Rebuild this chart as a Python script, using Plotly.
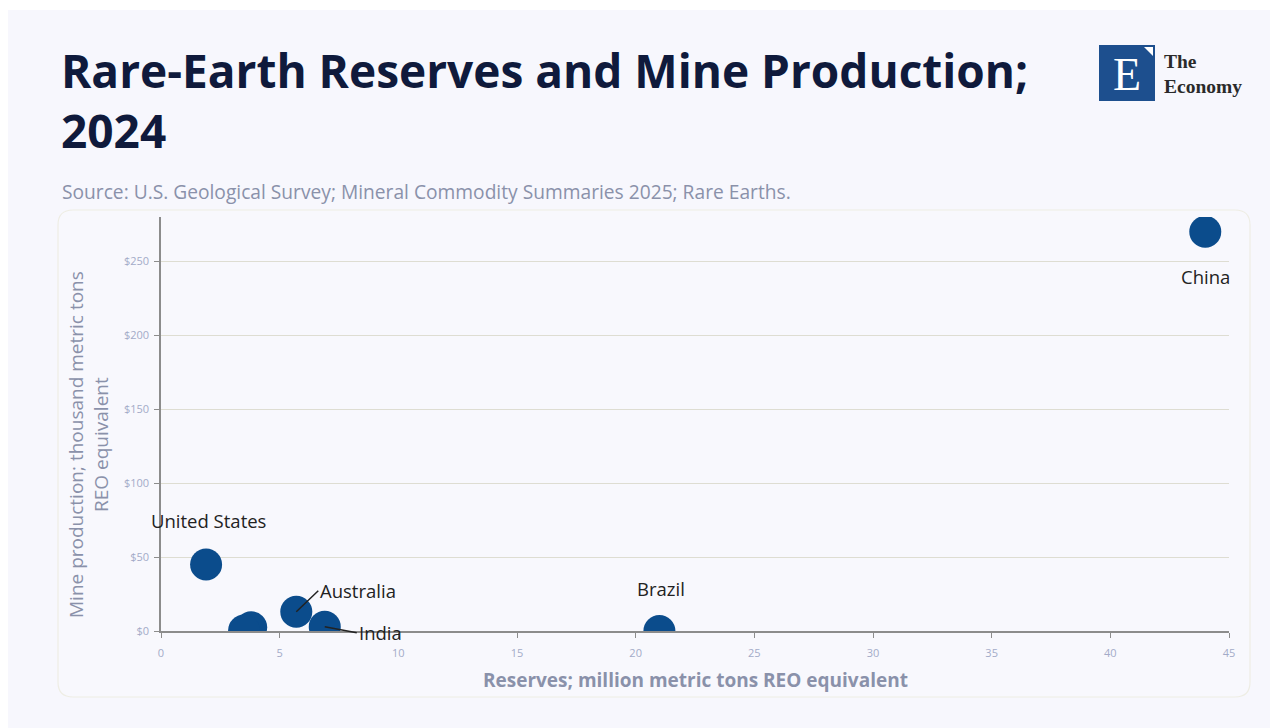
import plotly.graph_objects as go

countries = ["China", "Brazil", "India", "Australia", "Russia", "Vietnam", "United States"]
reserves = [44, 21, 6.9, 5.7, 3.8, 3.5, 1.9]          # million metric tons REO
production = [270, 0.02, 2.9, 13, 2.5, 0.3, 45]       # thousand metric tons REO
labels = ["China", "Brazil", "India", "Australia", "", "", "United States"]
x_ticks = [0, 5, 10, 15, 20, 25, 30, 35, 40, 45]
y_ticks = [0, 50, 100, 150, 200, 250]
y_tick_text = ["$0", "$50", "$100", "$150", "$200", "$250"]

OFF = 8  # page body margin
W, H = 1270, 720
# plot area in page pixels: x 161..1229, y 217..631
L, R, T, B = 161 - OFF, W - (1229 - OFF), 217 - OFF, H - (631 - OFF)
FONT = "'Open Sans', 'Noto Sans', sans-serif"
SERIF = "'Liberation Serif', 'DejaVu Serif', serif"
BLUE = "#0b4c8c"
GRAY = "#8a91aa"

def px(xp):
    return (xp - OFF - L) / (W - L - R)

def py(yp):
    return (H - B - (yp - OFF)) / (H - T - B)

fig = go.Figure()
fig.add_trace(go.Scatter(
    x=reserves, y=production, mode="markers",
    marker=dict(size=32, color=BLUE, line=dict(width=0)),
    text=countries, hoverinfo="text", cliponaxis=True, showlegend=False,
))

label_style = {
    "China": dict(xshift=0, yshift=-45, arrow=False),
    "Brazil": dict(xshift=2, yshift=42, arrow=False),
    "United States": dict(xshift=2, yshift=44, arrow=False),
    "Australia": dict(ax=22, ay=-21, arrow=True),
    "India": dict(ax=32, ay=6, arrow=True),
}
annotations = []
for name, xv, yv in zip(labels, reserves, production):
    if not name:
        continue
    st = label_style[name]
    if st["arrow"]:
        annotations.append(dict(
            x=xv, y=yv, xref="x", yref="y", text=name, showarrow=True,
            arrowhead=0, arrowwidth=1.5, arrowcolor="#222", ax=st["ax"], ay=st["ay"],
            xanchor="left", yanchor="middle", standoff=0,
            font=dict(family=FONT, size=18.5, color="#222"),
        ))
    else:
        annotations.append(dict(
            x=xv, y=yv, xref="x", yref="y", text=name, showarrow=False,
            xshift=st["xshift"], yshift=st["yshift"],
            font=dict(family=FONT, size=18.5, color="#222"),
        ))

# Title / source
annotations.append(dict(
    xref="paper", yref="paper", x=px(59), y=py(37), xanchor="left", yanchor="top",
    text="<b>Rare-Earth Reserves and Mine Production;<br>2024</b>", align="left",
    showarrow=False, font=dict(family=FONT, size=46, color="#0f1a3c"),
))
annotations.append(dict(
    xref="paper", yref="paper", x=px(60), y=py(192), xanchor="left", yanchor="middle",
    text="Source: U.S. Geological Survey; Mineral Commodity Summaries 2025; Rare Earths.",
    showarrow=False, font=dict(family=FONT, size=19.2, color=GRAY),
))
# Axis titles
annotations.append(dict(
    xref="paper", yref="paper", x=px(88), y=py(445), xanchor="center", yanchor="middle",
    text="Mine production; thousand metric tons<br>REO equivalent", textangle=-90,
    showarrow=False, font=dict(family=FONT, size=19, color=GRAY),
))
annotations.append(dict(
    xref="paper", yref="paper", x=0.5, y=py(680), xanchor="center", yanchor="middle",
    text="<b>Reserves; million metric tons REO equivalent</b>",
    showarrow=False, font=dict(family=FONT, size=19, color=GRAY),
))
# Logo text
annotations.append(dict(
    xref="paper", yref="paper", x=px(1127), y=py(74), xanchor="center", yanchor="middle",
    text="E", showarrow=False,
    font=dict(family=SERIF, size=46, color="white"),
))
annotations.append(dict(
    xref="paper", yref="paper", x=px(1162), y=py(74), xanchor="left", yanchor="middle",
    text="<b>The<br>Economy</b>", align="left", showarrow=False,
    font=dict(family=SERIF, size=19.5, color="#2a2a2a"),
))

shapes = [
    # outer card
    dict(type="rect", xref="paper", yref="paper", x0=px(8), x1=px(1290), y0=py(10), y1=py(740),
         fillcolor="#f7f7fd", line=dict(width=0), layer="below"),
    # inner card
    dict(type="path", xref="paper", yref="paper", layer="below",
         path=(f"M {px(73)},{py(210)} L {px(1235)},{py(210)} Q {px(1250)},{py(210)} {px(1250)},{py(225)} "
               f"L {px(1250)},{py(682)} Q {px(1250)},{py(697)} {px(1235)},{py(697)} "
               f"L {px(73)},{py(697)} Q {px(58)},{py(697)} {px(58)},{py(682)} "
               f"L {px(58)},{py(225)} Q {px(58)},{py(210)} {px(73)},{py(210)} Z"),
         fillcolor="#f8f8fd", line=dict(color="#eeede4", width=1.2)),
    # logo square
    dict(type="rect", xref="paper", yref="paper", x0=px(1099), x1=px(1155), y0=py(45), y1=py(101),
         fillcolor="#1d4f8e", line=dict(width=0)),
    dict(type="path", xref="paper", yref="paper",
         path=f"M {px(1144)},{py(47)} L {px(1153)},{py(47)} L {px(1153)},{py(56)} Z",
         fillcolor="white", line=dict(width=0)),
]

fig.update_layout(
    width=W, height=H,
    margin=dict(l=L, r=R, t=T, b=B),
    paper_bgcolor="white", plot_bgcolor="rgba(0,0,0,0)",
    font=dict(family=FONT),
    annotations=annotations, shapes=shapes,
    xaxis=dict(range=[0, 45], tickvals=x_ticks, showgrid=False, zeroline=False,
               showline=True, linecolor="#8c8c8c", linewidth=1.5,
               ticks="outside", ticklen=5, tickcolor="#8c8c8c", ticklabelstandoff=6,
               tickfont=dict(family=FONT, size=11, color="#a3abc8")),
    yaxis=dict(range=[0, 280], tickvals=y_ticks, ticktext=y_tick_text, showgrid=True,
               gridcolor="#deddd2", gridwidth=1, zeroline=False,
               showline=True, linecolor="#8c8c8c", linewidth=1.5,
               ticks="outside", ticklen=5, tickcolor="#8c8c8c", ticklabelstandoff=3,
               tickfont=dict(family=FONT, size=11, color="#a3abc8")),
)

fig.write_html("out.html")
